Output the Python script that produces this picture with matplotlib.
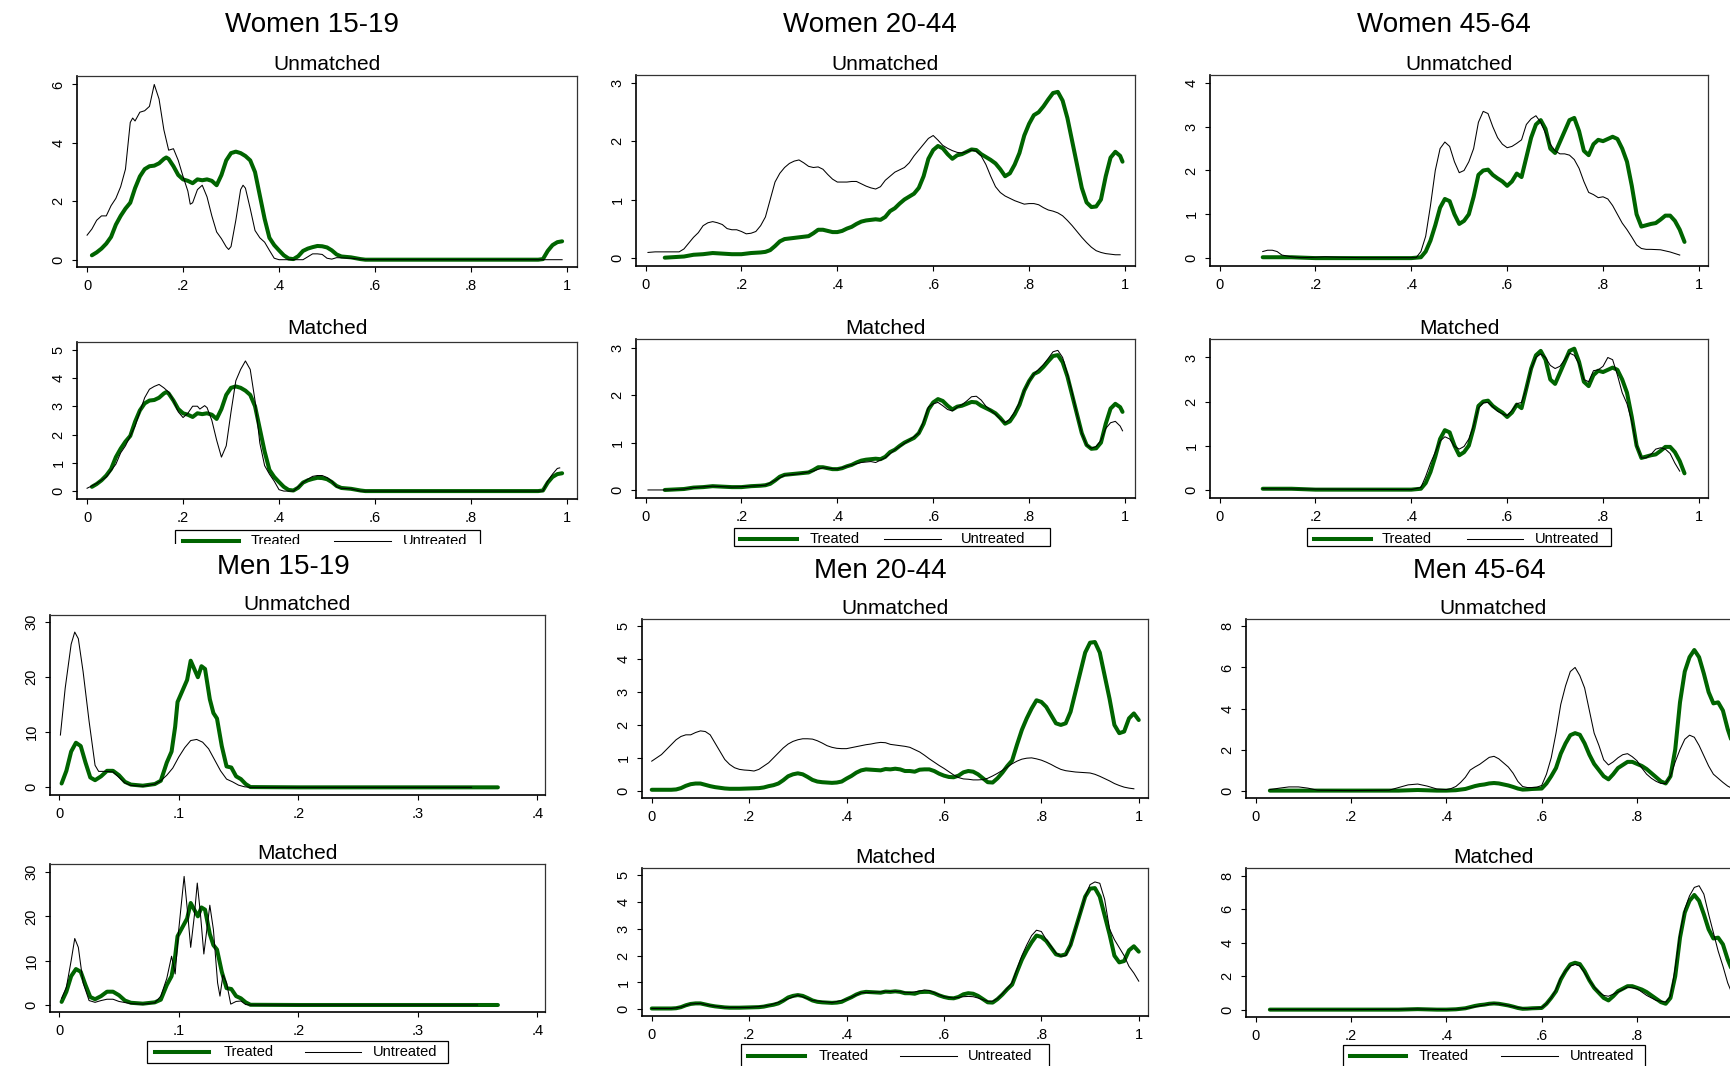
import numpy as np
import matplotlib
matplotlib.use("Agg")
import matplotlib.pyplot as plt
from matplotlib.patches import Rectangle

plt.rcParams["font.family"] = ["Liberation Sans", "DejaVu Sans"]

W, H = 1730, 1066
GREEN = "#006400"

# ---- data: (propensity score, density) ----
w1519_treated = [(0.01, 0.15), (0.02, 0.25), (0.03, 0.38), (0.04, 0.55), (0.05, 0.78), (0.06, 1.2), (0.07, 1.5),
                 (0.08, 1.75), (0.09, 1.95), (0.10, 2.45), (0.11, 2.85), (0.12, 3.1), (0.13, 3.2), (0.14, 3.22),
                 (0.15, 3.3), (0.16, 3.45), (0.165, 3.5), (0.17, 3.45), (0.18, 3.2), (0.19, 2.9), (0.20, 2.75),
                 (0.21, 2.7), (0.22, 2.62), (0.23, 2.75), (0.24, 2.72), (0.25, 2.75), (0.26, 2.7), (0.27, 2.55),
                 (0.28, 2.9), (0.29, 3.4), (0.30, 3.65), (0.31, 3.7), (0.32, 3.65), (0.33, 3.55), (0.34, 3.4),
                 (0.35, 3.0), (0.36, 2.2), (0.37, 1.4), (0.38, 0.75), (0.39, 0.5), (0.40, 0.32), (0.41, 0.15),
                 (0.42, 0.04), (0.43, 0.02), (0.44, 0.12), (0.45, 0.3), (0.46, 0.38), (0.47, 0.43), (0.48, 0.47),
                 (0.49, 0.46), (0.50, 0.42), (0.51, 0.32), (0.52, 0.18), (0.53, 0.11), (0.55, 0.08), (0.57, 0.02),
                 (0.58, 0.0), (0.70, 0.0), (0.94, 0.0), (0.95, 0.02), (0.96, 0.3), (0.97, 0.5), (0.98, 0.6),
                 (0.99, 0.63)]
w1519_untreated_unm = [(0.0, 0.84), (0.01, 1.05), (0.02, 1.35), (0.03, 1.5), (0.04, 1.5), (0.05, 1.85), (0.06, 2.1),
                       (0.07, 2.5), (0.08, 3.1), (0.09, 4.7), (0.095, 4.85), (0.10, 4.75), (0.11, 5.05), (0.12, 5.1),
                       (0.13, 5.25), (0.14, 6.0), (0.15, 5.5), (0.16, 4.45), (0.17, 3.75), (0.18, 3.8), (0.19, 3.4),
                       (0.20, 2.85), (0.21, 2.35), (0.215, 1.9), (0.22, 1.95), (0.23, 2.4), (0.24, 2.55), (0.25, 2.15),
                       (0.26, 1.5), (0.27, 0.95), (0.28, 0.72), (0.29, 0.44), (0.295, 0.35), (0.30, 0.45), (0.31, 1.35),
                       (0.32, 2.4), (0.325, 2.55), (0.33, 2.45), (0.34, 1.75), (0.35, 1.0), (0.36, 0.75), (0.37, 0.6),
                       (0.38, 0.32), (0.39, 0.05), (0.40, 0.0), (0.45, 0.0), (0.46, 0.1), (0.47, 0.2), (0.48, 0.2),
                       (0.49, 0.18), (0.50, 0.05), (0.51, 0.02), (0.52, 0.07), (0.55, 0.05), (0.58, 0.0), (0.99, 0.0)]
w1519_untreated_mat = [(0.0, 0.1), (0.02, 0.27), (0.04, 0.5), (0.06, 0.95), (0.07, 1.35), (0.08, 1.6), (0.09, 1.95),
                       (0.10, 2.3), (0.11, 2.8), (0.12, 3.3), (0.13, 3.6), (0.14, 3.7), (0.15, 3.77), (0.16, 3.65),
                       (0.17, 3.5), (0.18, 3.2), (0.19, 2.8), (0.20, 2.6), (0.21, 2.75), (0.22, 3.0), (0.23, 3.0),
                       (0.235, 2.9), (0.245, 3.02), (0.25, 2.95), (0.26, 2.5), (0.27, 1.8), (0.28, 1.2), (0.29, 1.6),
                       (0.30, 2.8), (0.31, 3.9), (0.32, 4.3), (0.33, 4.6), (0.34, 4.3), (0.35, 3.2), (0.36, 1.7),
                       (0.37, 0.9), (0.38, 0.6), (0.39, 0.35), (0.40, 0.05), (0.41, 0.0), (0.43, 0.0), (0.44, 0.15),
                       (0.45, 0.3), (0.46, 0.42), (0.47, 0.52), (0.48, 0.55), (0.49, 0.55), (0.50, 0.48), (0.51, 0.35),
                       (0.52, 0.15), (0.53, 0.1), (0.55, 0.08), (0.57, 0.0), (0.95, 0.0), (0.96, 0.35), (0.97, 0.6),
                       (0.98, 0.8), (0.985, 0.82)]

w2044_treated = [(0.04, 0.0), (0.06, 0.01), (0.08, 0.02), (0.10, 0.05), (0.12, 0.06), (0.14, 0.08), (0.16, 0.07),
                 (0.18, 0.06), (0.20, 0.06), (0.22, 0.08), (0.24, 0.09), (0.25, 0.1), (0.26, 0.13), (0.27, 0.2),
                 (0.28, 0.28), (0.29, 0.32), (0.30, 0.33), (0.32, 0.35), (0.34, 0.37), (0.35, 0.42), (0.36, 0.48),
                 (0.37, 0.48), (0.38, 0.46), (0.39, 0.44), (0.40, 0.44), (0.41, 0.46), (0.42, 0.5), (0.43, 0.53),
                 (0.44, 0.58), (0.45, 0.62), (0.46, 0.64), (0.47, 0.65), (0.48, 0.66), (0.49, 0.65), (0.50, 0.7),
                 (0.51, 0.8), (0.52, 0.85), (0.53, 0.93), (0.54, 1.0), (0.55, 1.05), (0.56, 1.1), (0.57, 1.2),
                 (0.58, 1.4), (0.59, 1.7), (0.60, 1.85), (0.61, 1.92), (0.62, 1.88), (0.63, 1.78), (0.64, 1.7),
                 (0.65, 1.76), (0.66, 1.78), (0.67, 1.82), (0.68, 1.86), (0.69, 1.85), (0.70, 1.78), (0.71, 1.73),
                 (0.72, 1.68), (0.73, 1.62), (0.74, 1.52), (0.75, 1.4), (0.76, 1.45), (0.77, 1.6), (0.78, 1.8),
                 (0.79, 2.1), (0.80, 2.3), (0.81, 2.45), (0.82, 2.5), (0.83, 2.6), (0.84, 2.72), (0.85, 2.83),
                 (0.86, 2.85), (0.87, 2.7), (0.88, 2.4), (0.89, 2.0), (0.90, 1.6), (0.91, 1.2), (0.92, 0.95),
                 (0.93, 0.87), (0.94, 0.88), (0.95, 1.0), (0.96, 1.4), (0.97, 1.72), (0.98, 1.82), (0.99, 1.75),
                 (0.995, 1.65)]
w2044_untreated_unm = [(0.005, 0.09), (0.02, 0.1), (0.05, 0.1), (0.07, 0.1), (0.08, 0.15), (0.09, 0.25), (0.10, 0.35),
                       (0.11, 0.43), (0.12, 0.55), (0.13, 0.6), (0.14, 0.62), (0.15, 0.6), (0.16, 0.57), (0.17, 0.5),
                       (0.18, 0.48), (0.19, 0.48), (0.20, 0.45), (0.21, 0.41), (0.22, 0.42), (0.23, 0.45), (0.24, 0.55),
                       (0.25, 0.7), (0.26, 1.0), (0.27, 1.3), (0.28, 1.45), (0.29, 1.55), (0.30, 1.62), (0.31, 1.66),
                       (0.32, 1.68), (0.33, 1.63), (0.34, 1.57), (0.35, 1.55), (0.36, 1.56), (0.37, 1.52), (0.38, 1.43),
                       (0.39, 1.35), (0.40, 1.3), (0.41, 1.3), (0.42, 1.3), (0.43, 1.31), (0.44, 1.31), (0.45, 1.27),
                       (0.46, 1.23), (0.47, 1.2), (0.48, 1.18), (0.49, 1.22), (0.50, 1.33), (0.51, 1.4), (0.52, 1.47),
                       (0.53, 1.51), (0.54, 1.55), (0.55, 1.63), (0.56, 1.75), (0.57, 1.85), (0.58, 1.95), (0.59, 2.05),
                       (0.60, 2.1), (0.61, 2.02), (0.62, 1.93), (0.63, 1.88), (0.64, 1.84), (0.65, 1.81), (0.66, 1.8),
                       (0.67, 1.82), (0.68, 1.85), (0.69, 1.83), (0.70, 1.75), (0.71, 1.6), (0.72, 1.4), (0.73, 1.22),
                       (0.74, 1.12), (0.75, 1.06), (0.76, 1.02), (0.77, 0.98), (0.78, 0.95), (0.79, 0.92), (0.80, 0.93),
                       (0.81, 0.93), (0.82, 0.91), (0.83, 0.86), (0.84, 0.82), (0.85, 0.8), (0.86, 0.77), (0.87, 0.72),
                       (0.88, 0.64), (0.89, 0.55), (0.90, 0.45), (0.91, 0.35), (0.92, 0.26), (0.93, 0.18), (0.94, 0.12),
                       (0.95, 0.09), (0.96, 0.07), (0.97, 0.06), (0.98, 0.05), (0.99, 0.05)]
w2044_untreated_mat = [(0.005, 0.0), (0.05, 0.0), (0.08, 0.02), (0.10, 0.05), (0.14, 0.08), (0.18, 0.06), (0.22, 0.08),
                       (0.25, 0.1), (0.27, 0.2), (0.29, 0.31), (0.32, 0.34), (0.35, 0.4), (0.37, 0.47), (0.40, 0.44),
                       (0.43, 0.53), (0.45, 0.58), (0.47, 0.6), (0.48, 0.58), (0.50, 0.68), (0.52, 0.85), (0.55, 1.05),
                       (0.57, 1.2), (0.58, 1.45), (0.59, 1.75), (0.60, 1.82), (0.61, 1.85), (0.62, 1.78), (0.63, 1.7),
                       (0.64, 1.67), (0.65, 1.75), (0.66, 1.8), (0.67, 1.88), (0.68, 1.97), (0.69, 1.98), (0.70, 1.9),
                       (0.71, 1.77), (0.72, 1.68), (0.73, 1.6), (0.74, 1.5), (0.75, 1.42), (0.76, 1.5), (0.77, 1.65),
                       (0.78, 1.85), (0.79, 2.1), (0.80, 2.3), (0.81, 2.45), (0.82, 2.55), (0.83, 2.65), (0.84, 2.78),
                       (0.85, 2.92), (0.86, 2.95), (0.87, 2.8), (0.88, 2.45), (0.89, 2.05), (0.90, 1.6), (0.91, 1.2),
                       (0.92, 0.95), (0.93, 0.88), (0.94, 0.92), (0.95, 1.05), (0.96, 1.3), (0.97, 1.42), (0.98, 1.45),
                       (0.99, 1.35), (0.995, 1.25)]

w4564_treated = [(0.09, 0.02), (0.15, 0.02), (0.20, 0.0), (0.30, 0.0), (0.40, 0.0), (0.42, 0.02), (0.43, 0.15),
                 (0.44, 0.4), (0.45, 0.75), (0.46, 1.15), (0.47, 1.35), (0.48, 1.3), (0.49, 1.0), (0.50, 0.78),
                 (0.51, 0.85), (0.52, 1.0), (0.53, 1.4), (0.54, 1.9), (0.55, 2.0), (0.56, 2.02), (0.57, 1.9),
                 (0.58, 1.82), (0.59, 1.75), (0.60, 1.65), (0.61, 1.75), (0.62, 1.93), (0.63, 1.85), (0.64, 2.3),
                 (0.65, 2.75), (0.66, 3.05), (0.67, 3.15), (0.68, 2.95), (0.69, 2.5), (0.70, 2.4), (0.71, 2.65),
                 (0.72, 2.9), (0.73, 3.15), (0.74, 3.2), (0.75, 2.9), (0.76, 2.45), (0.77, 2.35), (0.78, 2.6),
                 (0.79, 2.7), (0.80, 2.67), (0.81, 2.72), (0.82, 2.77), (0.83, 2.72), (0.84, 2.5), (0.85, 2.2),
                 (0.86, 1.65), (0.87, 1.0), (0.88, 0.72), (0.89, 0.75), (0.90, 0.78), (0.91, 0.8), (0.92, 0.88),
                 (0.93, 0.97), (0.94, 0.97), (0.95, 0.85), (0.96, 0.65), (0.97, 0.37)]
w4564_untreated_unm = [(0.09, 0.15), (0.10, 0.18), (0.11, 0.18), (0.12, 0.15), (0.13, 0.07), (0.15, 0.03), (0.17, 0.01),
                       (0.20, 0.02), (0.22, 0.03), (0.25, 0.02), (0.30, 0.01), (0.41, 0.01), (0.42, 0.15), (0.43, 0.5),
                       (0.44, 1.2), (0.45, 2.0), (0.46, 2.5), (0.47, 2.65), (0.48, 2.55), (0.49, 2.2), (0.50, 1.95),
                       (0.51, 2.0), (0.52, 2.2), (0.53, 2.5), (0.54, 3.1), (0.55, 3.35), (0.56, 3.3), (0.57, 3.0),
                       (0.58, 2.75), (0.59, 2.6), (0.60, 2.52), (0.61, 2.55), (0.62, 2.62), (0.63, 2.7), (0.64, 3.05),
                       (0.65, 3.18), (0.66, 3.25), (0.67, 3.1), (0.68, 2.85), (0.69, 2.6), (0.70, 2.45), (0.71, 2.38),
                       (0.72, 2.38), (0.73, 2.35), (0.74, 2.25), (0.75, 2.05), (0.76, 1.75), (0.77, 1.5), (0.78, 1.45),
                       (0.79, 1.38), (0.80, 1.4), (0.81, 1.35), (0.82, 1.2), (0.83, 1.0), (0.84, 0.8), (0.85, 0.65),
                       (0.86, 0.48), (0.87, 0.3), (0.88, 0.22), (0.89, 0.2), (0.90, 0.2), (0.92, 0.19), (0.94, 0.14),
                       (0.96, 0.07)]
w4564_untreated_mat = [(0.09, 0.02), (0.40, 0.0), (0.42, 0.05), (0.43, 0.3), (0.44, 0.6), (0.45, 0.85), (0.46, 1.1),
                       (0.47, 1.2), (0.48, 1.15), (0.49, 0.98), (0.50, 0.92), (0.51, 0.98), (0.52, 1.15), (0.53, 1.45),
                       (0.54, 1.85), (0.55, 1.97), (0.56, 1.98), (0.57, 1.88), (0.58, 1.78), (0.59, 1.72), (0.60, 1.68),
                       (0.61, 1.8), (0.62, 1.95), (0.63, 1.98), (0.64, 2.3), (0.65, 2.75), (0.66, 3.0), (0.67, 3.08),
                       (0.68, 3.0), (0.69, 2.82), (0.70, 2.75), (0.71, 2.8), (0.72, 2.95), (0.73, 3.1), (0.74, 3.05),
                       (0.75, 2.85), (0.76, 2.5), (0.77, 2.45), (0.78, 2.7), (0.79, 2.72), (0.80, 2.8), (0.81, 3.0),
                       (0.82, 2.95), (0.83, 2.6), (0.84, 2.2), (0.85, 1.95), (0.86, 1.55), (0.87, 1.0), (0.88, 0.72),
                       (0.89, 0.72), (0.90, 0.8), (0.91, 0.92), (0.92, 0.95), (0.93, 0.92), (0.94, 0.82), (0.95, 0.6),
                       (0.96, 0.42)]

m1519_treated = [(0.002, 0.7), (0.006, 3.0), (0.010, 6.5), (0.014, 8.1), (0.018, 7.5), (0.022, 4.5), (0.026, 1.8),
                 (0.030, 1.3), (0.035, 2.0), (0.040, 3.0), (0.045, 3.0), (0.050, 2.2), (0.055, 1.0), (0.060, 0.5),
                 (0.070, 0.3), (0.080, 0.6), (0.085, 1.2), (0.090, 4.5), (0.094, 6.5), (0.097, 11.0), (0.099, 15.5),
                 (0.103, 17.5), (0.107, 19.5), (0.110, 23.0), (0.113, 21.5), (0.116, 20.0), (0.119, 22.0),
                 (0.122, 21.5), (0.126, 16.0), (0.129, 13.5), (0.132, 12.5), (0.136, 7.5), (0.140, 3.8),
                 (0.144, 3.6), (0.148, 2.0), (0.152, 1.5), (0.156, 0.6), (0.160, 0.05), (0.200, 0.0), (0.300, 0.0),
                 (0.367, 0.0)]
m1519_untreated_unm = [(0.001, 9.5), (0.005, 18.0), (0.010, 26.0), (0.013, 28.2), (0.016, 27.0), (0.020, 21.0),
                       (0.025, 12.0), (0.030, 4.0), (0.033, 2.9), (0.040, 2.9), (0.045, 2.8), (0.050, 1.8),
                       (0.055, 0.8), (0.060, 0.35), (0.070, 0.2), (0.080, 0.6), (0.085, 1.2), (0.090, 2.2),
                       (0.095, 3.5), (0.100, 5.5), (0.105, 7.2), (0.110, 8.5), (0.115, 8.7), (0.120, 8.2),
                       (0.125, 7.0), (0.130, 5.0), (0.135, 3.0), (0.140, 1.5), (0.145, 1.0), (0.150, 0.4),
                       (0.155, 0.1), (0.160, 0.0), (0.200, 0.0), (0.300, 0.0), (0.345, 0.0)]
m1519_untreated_mat = [(0.002, 1.5), (0.006, 4.0), (0.010, 10.0), (0.013, 15.0), (0.016, 13.0), (0.020, 5.0),
                       (0.025, 1.0), (0.030, 0.6), (0.035, 1.0), (0.040, 1.3), (0.045, 1.3), (0.050, 0.8),
                       (0.060, 0.3), (0.070, 0.2), (0.080, 0.5), (0.085, 2.0), (0.090, 6.0), (0.094, 11.0),
                       (0.097, 7.0), (0.100, 17.0), (0.1045, 29.0), (0.107, 22.0), (0.110, 13.0), (0.113, 20.0),
                       (0.1155, 27.5), (0.118, 21.0), (0.121, 11.5), (0.1235, 17.0), (0.126, 22.5), (0.129, 17.0),
                       (0.1325, 5.0), (0.1345, 2.0), (0.137, 6.8), (0.140, 5.0), (0.1435, 0.2), (0.148, 0.8),
                       (0.152, 0.9), (0.156, 0.1), (0.160, 0.0), (0.200, 0.0), (0.300, 0.0), (0.350, 0.0)]

m2044_treated = [(0.0, 0.03), (0.02, 0.03), (0.04, 0.03), (0.05, 0.04), (0.06, 0.08), (0.07, 0.15), (0.08, 0.2),
                 (0.09, 0.22), (0.10, 0.22), (0.11, 0.18), (0.12, 0.14), (0.13, 0.11), (0.14, 0.09), (0.15, 0.07),
                 (0.16, 0.06), (0.18, 0.06), (0.20, 0.07), (0.22, 0.08), (0.23, 0.1), (0.24, 0.14), (0.25, 0.17),
                 (0.26, 0.22), (0.27, 0.32), (0.28, 0.44), (0.29, 0.5), (0.30, 0.53), (0.31, 0.5), (0.32, 0.42),
                 (0.33, 0.33), (0.34, 0.28), (0.35, 0.26), (0.36, 0.25), (0.37, 0.24), (0.38, 0.25), (0.39, 0.28),
                 (0.40, 0.37), (0.41, 0.45), (0.42, 0.55), (0.43, 0.62), (0.44, 0.65), (0.45, 0.64), (0.46, 0.63),
                 (0.47, 0.62), (0.48, 0.66), (0.49, 0.65), (0.50, 0.67), (0.51, 0.65), (0.52, 0.6), (0.53, 0.6),
                 (0.54, 0.58), (0.55, 0.64), (0.56, 0.65), (0.57, 0.65), (0.58, 0.6), (0.59, 0.52), (0.60, 0.46),
                 (0.61, 0.42), (0.62, 0.41), (0.63, 0.46), (0.64, 0.56), (0.65, 0.6), (0.66, 0.58), (0.67, 0.5),
                 (0.68, 0.38), (0.69, 0.26), (0.70, 0.25), (0.71, 0.38), (0.72, 0.55), (0.73, 0.75), (0.74, 0.92),
                 (0.75, 1.4), (0.76, 1.85), (0.77, 2.2), (0.78, 2.5), (0.79, 2.75), (0.80, 2.7), (0.81, 2.55),
                 (0.82, 2.3), (0.83, 2.05), (0.84, 2.0), (0.85, 2.05), (0.86, 2.4), (0.87, 3.0), (0.88, 3.6),
                 (0.89, 4.2), (0.90, 4.5), (0.91, 4.52), (0.92, 4.2), (0.93, 3.5), (0.94, 2.8), (0.95, 2.0),
                 (0.96, 1.75), (0.97, 1.8), (0.98, 2.2), (0.99, 2.35), (1.0, 2.15)]
m2044_untreated_unm = [(0.0, 0.9), (0.02, 1.1), (0.04, 1.4), (0.05, 1.55), (0.06, 1.65), (0.07, 1.7), (0.08, 1.7),
                       (0.09, 1.77), (0.10, 1.82), (0.11, 1.8), (0.12, 1.7), (0.13, 1.45), (0.14, 1.2), (0.15, 0.95),
                       (0.16, 0.8), (0.17, 0.7), (0.18, 0.65), (0.19, 0.63), (0.20, 0.62), (0.21, 0.6), (0.22, 0.65),
                       (0.23, 0.75), (0.24, 0.85), (0.25, 1.0), (0.26, 1.15), (0.27, 1.3), (0.28, 1.42), (0.29, 1.5),
                       (0.30, 1.55), (0.31, 1.58), (0.32, 1.58), (0.33, 1.57), (0.34, 1.52), (0.35, 1.45), (0.36, 1.37),
                       (0.37, 1.32), (0.38, 1.29), (0.39, 1.28), (0.40, 1.28), (0.41, 1.31), (0.42, 1.34), (0.43, 1.37),
                       (0.44, 1.4), (0.45, 1.42), (0.46, 1.45), (0.47, 1.47), (0.48, 1.46), (0.49, 1.41), (0.50, 1.39),
                       (0.51, 1.37), (0.52, 1.35), (0.53, 1.32), (0.54, 1.25), (0.55, 1.18), (0.56, 1.08), (0.57, 0.97),
                       (0.58, 0.87), (0.59, 0.77), (0.60, 0.68), (0.61, 0.58), (0.62, 0.48), (0.63, 0.4), (0.64, 0.36),
                       (0.65, 0.35), (0.66, 0.33), (0.67, 0.33), (0.68, 0.34), (0.69, 0.38), (0.70, 0.45), (0.71, 0.53),
                       (0.72, 0.62), (0.73, 0.72), (0.74, 0.82), (0.75, 0.9), (0.76, 0.96), (0.77, 0.99), (0.78, 1.0),
                       (0.79, 0.97), (0.80, 0.93), (0.81, 0.87), (0.82, 0.8), (0.83, 0.72), (0.84, 0.65), (0.85, 0.61),
                       (0.86, 0.59), (0.87, 0.57), (0.88, 0.56), (0.89, 0.55), (0.90, 0.54), (0.91, 0.5), (0.92, 0.44),
                       (0.93, 0.37), (0.94, 0.3), (0.95, 0.22), (0.96, 0.16), (0.97, 0.11), (0.98, 0.08), (0.99, 0.06)]
m2044_untreated_mat = [(0.0, 0.03), (0.04, 0.03), (0.06, 0.08), (0.08, 0.2), (0.10, 0.22), (0.12, 0.14), (0.15, 0.07),
                       (0.20, 0.07), (0.24, 0.14), (0.27, 0.32), (0.30, 0.53), (0.33, 0.33), (0.37, 0.25), (0.40, 0.37),
                       (0.43, 0.62), (0.46, 0.64), (0.50, 0.67), (0.53, 0.62), (0.55, 0.68), (0.56, 0.72), (0.57, 0.7),
                       (0.58, 0.62), (0.60, 0.47), (0.62, 0.42), (0.64, 0.47), (0.65, 0.48), (0.66, 0.47), (0.67, 0.42),
                       (0.68, 0.36), (0.69, 0.3), (0.70, 0.3), (0.71, 0.4), (0.72, 0.58), (0.73, 0.78), (0.74, 1.0),
                       (0.75, 1.5), (0.76, 2.0), (0.77, 2.4), (0.78, 2.75), (0.79, 2.95), (0.80, 2.9), (0.81, 2.6),
                       (0.82, 2.35), (0.83, 2.1), (0.84, 1.98), (0.85, 2.0), (0.86, 2.4), (0.87, 3.0), (0.88, 3.6),
                       (0.89, 4.2), (0.90, 4.65), (0.91, 4.75), (0.92, 4.7), (0.93, 4.1), (0.94, 3.0), (0.95, 2.6),
                       (0.96, 2.3), (0.97, 2.0), (0.98, 1.6), (0.99, 1.35), (1.0, 1.05)]

m4564_treated = [(0.03, 0.0), (0.10, 0.0), (0.20, 0.0), (0.30, 0.0), (0.34, 0.03), (0.38, 0.0), (0.40, 0.0),
                 (0.42, 0.02), (0.44, 0.08), (0.45, 0.15), (0.46, 0.22), (0.47, 0.27), (0.48, 0.3), (0.49, 0.35),
                 (0.50, 0.37), (0.51, 0.35), (0.52, 0.3), (0.53, 0.25), (0.54, 0.18), (0.55, 0.1), (0.56, 0.05),
                 (0.57, 0.06), (0.58, 0.08), (0.59, 0.09), (0.60, 0.1), (0.61, 0.35), (0.62, 0.7), (0.63, 1.1),
                 (0.64, 1.8), (0.65, 2.3), (0.66, 2.7), (0.67, 2.8), (0.68, 2.72), (0.69, 2.3), (0.70, 1.75),
                 (0.71, 1.3), (0.72, 1.0), (0.73, 0.7), (0.74, 0.55), (0.75, 0.8), (0.76, 1.1), (0.77, 1.25),
                 (0.78, 1.4), (0.79, 1.4), (0.80, 1.3), (0.81, 1.2), (0.82, 1.05), (0.83, 0.85), (0.84, 0.65),
                 (0.85, 0.45), (0.86, 0.35), (0.87, 0.7), (0.88, 2.0), (0.89, 4.3), (0.90, 5.8), (0.91, 6.5),
                 (0.92, 6.85), (0.93, 6.5), (0.94, 5.7), (0.95, 4.8), (0.96, 4.25), (0.97, 4.3), (0.98, 3.9),
                 (0.99, 3.0), (1.0, 2.3)]
m4564_untreated_unm = [(0.03, 0.05), (0.05, 0.12), (0.07, 0.18), (0.09, 0.18), (0.11, 0.12), (0.13, 0.02), (0.20, 0.0),
                       (0.28, 0.02), (0.30, 0.15), (0.32, 0.28), (0.34, 0.32), (0.36, 0.22), (0.38, 0.08), (0.40, 0.05),
                       (0.41, 0.1), (0.42, 0.2), (0.43, 0.4), (0.44, 0.65), (0.45, 1.0), (0.46, 1.15), (0.47, 1.28),
                       (0.48, 1.45), (0.49, 1.62), (0.50, 1.67), (0.51, 1.55), (0.52, 1.35), (0.53, 1.15), (0.54, 0.85),
                       (0.55, 0.45), (0.56, 0.2), (0.57, 0.15), (0.58, 0.15), (0.59, 0.17), (0.60, 0.25), (0.61, 0.8),
                       (0.62, 1.6), (0.63, 2.8), (0.64, 4.2), (0.65, 5.1), (0.66, 5.8), (0.67, 6.0), (0.68, 5.6),
                       (0.69, 5.0), (0.70, 3.9), (0.71, 2.8), (0.72, 2.2), (0.73, 1.5), (0.74, 1.25), (0.75, 1.4),
                       (0.76, 1.6), (0.77, 1.75), (0.78, 1.8), (0.79, 1.65), (0.80, 1.45), (0.81, 1.1), (0.82, 0.8),
                       (0.83, 0.6), (0.84, 0.45), (0.85, 0.35), (0.86, 0.35), (0.87, 0.7), (0.88, 1.4), (0.89, 2.0),
                       (0.90, 2.5), (0.91, 2.7), (0.92, 2.6), (0.93, 2.2), (0.94, 1.7), (0.95, 1.2), (0.96, 0.8),
                       (0.97, 0.6), (0.98, 0.4), (0.99, 0.22), (1.0, 0.1)]
m4564_untreated_mat = [(0.03, 0.0), (0.10, 0.0), (0.20, 0.0), (0.30, 0.02), (0.34, 0.04), (0.40, 0.0), (0.43, 0.04),
                       (0.45, 0.12), (0.48, 0.28), (0.50, 0.37), (0.52, 0.3), (0.55, 0.12), (0.57, 0.05), (0.60, 0.12),
                       (0.61, 0.35), (0.62, 0.7), (0.63, 1.2), (0.64, 1.9), (0.65, 2.3), (0.66, 2.6), (0.67, 2.7),
                       (0.68, 2.6), (0.69, 2.2), (0.70, 1.75), (0.71, 1.35), (0.72, 1.05), (0.73, 0.85), (0.74, 0.8),
                       (0.76, 1.05), (0.78, 1.35), (0.80, 1.25), (0.82, 0.85), (0.84, 0.55), (0.86, 0.45), (0.87, 0.8),
                       (0.88, 2.5), (0.89, 4.6), (0.90, 6.0), (0.91, 6.8), (0.92, 7.3), (0.93, 7.4), (0.94, 6.9),
                       (0.95, 5.7), (0.96, 4.6), (0.97, 3.5), (0.98, 2.6), (0.99, 1.6), (1.0, 0.9)]

x_ticks_01 = [0, 0.2, 0.4, 0.6, 0.8, 1]
x_labels_01 = ["0", ".2", ".4", ".6", ".8", "1"]
# the "1" tick of the last column falls just past the canvas edge
x_ticks_08 = [0, 0.2, 0.4, 0.6, 0.8]
x_labels_08 = ["0", ".2", ".4", ".6", ".8"]
x_ticks_04 = [0, 0.1, 0.2, 0.3, 0.4]
x_labels_04 = ["0", ".1", ".2", ".3", ".4"]

fig = plt.figure(figsize=(W / 100, H / 100), dpi=100)


def px_axes(left, top, right, bottom):
    return fig.add_axes([left / W, 1 - bottom / H, (right - left) / W, (bottom - top) / H])


def px_text(x, y, s, size):
    fig.text(x / W, 1 - y / H, s, ha="center", va="baseline", fontsize=size)


def density_panel(box, xlim, ylim, xticks, xlabels, yticks, treated, untreated):
    ax = px_axes(*box)
    tx, ty = np.array(treated).T
    ux, uy = np.array(untreated).T
    ax.plot(tx, ty, color=GREEN, lw=2.9, solid_joinstyle="round", solid_capstyle="round")
    ax.plot(ux, uy, color="black", lw=0.75)
    ax.set_xlim(*xlim)
    ax.set_ylim(*ylim)
    ax.set_xticks(xticks, xlabels)
    ax.set_yticks(yticks, [str(v) for v in yticks])
    ax.tick_params(direction="out", length=3.8, width=0.8, pad=4.5, labelsize=10.5, colors="black")
    ax.tick_params(axis="y", labelrotation=90)
    for lab in ax.get_yticklabels():
        lab.set_va("center")
    for side in ("left", "bottom"):
        ax.spines[side].set_linewidth(1.2)
    for side in ("top", "right"):
        ax.spines[side].set_linewidth(0.9)
        ax.spines[side].set_color("#333333")
    return ax


def legend_box(left, top, right, bottom, clip, green_span, treated_x, black_span, untreated_x, text_y):
    ax = px_axes(left - 2, top - 2, right + 2, clip)
    ax.set_xlim(left - 2, right + 2)
    ax.set_ylim(clip, top - 2)
    ax.axis("off")
    ax.add_patch(Rectangle((left, top), right - left, bottom - top, fill=False, lw=0.9, ec="black"))
    ax.plot(green_span, [text_y, text_y], color=GREEN, lw=2.9)
    ax.plot(black_span, [text_y, text_y], color="black", lw=0.75)
    ax.text(treated_x, text_y, "Treated", ha="left", va="center", fontsize=10.5, clip_on=True)
    ax.text(untreated_x, text_y, "Untreated", ha="left", va="center", fontsize=10.5, clip_on=True)


# Women 15-19
px_text(312, 32, "Women 15-19", 20)
px_text(327, 69.5, "Unmatched", 15)
px_text(327, 334.5, "Matched", 15)
density_panel((77, 76, 577, 267), (-0.021, 1.021), (-0.25, 6.29), x_ticks_01, x_labels_01, [0, 2, 4, 6],
              w1519_treated, w1519_untreated_unm)
density_panel((77, 342, 577, 499), (-0.021, 1.021), (-0.28, 5.27), x_ticks_01, x_labels_01, [0, 1, 2, 3, 4, 5],
              w1519_treated, w1519_untreated_mat)
legend_box(175, 530, 479.5, 552, 543.5, (182.5, 239), 251, (333.5, 391), 402.6, 541)

# Women 20-44
px_text(870, 32, "Women 20-44", 20)
px_text(885, 69.5, "Unmatched", 15)
px_text(885, 334.5, "Matched", 15)
density_panel((636, 75, 1135, 266), (-0.02, 1.021), (-0.143, 3.14), x_ticks_01, x_labels_01, [0, 1, 2, 3],
              w2044_treated, w2044_untreated_unm)
density_panel((636, 339, 1135, 498), (-0.02, 1.021), (-0.17, 3.19), x_ticks_01, x_labels_01, [0, 1, 2, 3],
              w2044_treated, w2044_untreated_mat)
legend_box(733.6, 528, 1050, 546, 547.5, (740, 797), 810, (883.6, 941), 961, 539)

# Women 45-64
px_text(1444, 32, "Women 45-64", 20)
px_text(1459, 69.5, "Unmatched", 15)
px_text(1459, 334.5, "Matched", 15)
density_panel((1210, 75, 1708, 266), (-0.02, 1.019), (-0.18, 4.18), x_ticks_01, x_labels_01, [0, 1, 2, 3, 4],
              w4564_treated, w4564_untreated_unm)
density_panel((1210, 339, 1708, 498), (-0.02, 1.019), (-0.19, 3.42), x_ticks_01, x_labels_01, [0, 1, 2, 3],
              w4564_treated, w4564_untreated_mat)
legend_box(1307, 528, 1610.6, 546, 547.5, (1314, 1370.6), 1382, (1467, 1522.6), 1535, 539)

# Men 15-19
px_text(283, 574, "Men 15-19", 20)
px_text(297, 609.5, "Unmatched", 15)
px_text(297, 859, "Matched", 15)
density_panel((50, 615, 545, 795), (-0.0077, 0.4064), (-1.39, 31.3), x_ticks_04, x_labels_04, [0, 10, 20, 30],
              m1519_treated, m1519_untreated_unm)
density_panel((50, 864, 545, 1012), (-0.0077, 0.4064), (-1.58, 31.8), x_ticks_04, x_labels_04, [0, 10, 20, 30],
              m1519_treated, m1519_untreated_mat)
legend_box(147, 1041, 448, 1063, 1066, (154.5, 209), 223.5, (304.6, 360.5), 372.7, 1052)

# Men 20-44
px_text(880, 578, "Men 20-44", 20)
px_text(895, 614, "Unmatched", 15)
px_text(895, 863, "Matched", 15)
density_panel((642, 619, 1148, 798), (-0.02, 1.019), (-0.22, 5.22), x_ticks_01, x_labels_01, [0, 1, 2, 3, 4, 5],
              m2044_treated, m2044_untreated_unm)
density_panel((642, 868, 1148, 1016), (-0.02, 1.019), (-0.25, 5.27), x_ticks_01, x_labels_01, [0, 1, 2, 3, 4, 5],
              m2044_treated, m2044_untreated_mat)
legend_box(740.8, 1044, 1049.2, 1070, 1066, (748, 805), 818.6, (900, 957), 968, 1056)

# Men 45-64 (right edge runs past the canvas, as in the source)
px_text(1479, 578, "Men 45-64", 20)
px_text(1493, 614, "Unmatched", 15)
px_text(1493, 863, "Matched", 15)
density_panel((1246, 619, 1742, 798), (-0.02, 1.02), (-0.36, 8.36), x_ticks_08, x_labels_08, [0, 2, 4, 6, 8],
              m4564_treated, m4564_untreated_unm)
density_panel((1246, 868, 1742, 1017), (-0.02, 1.02), (-0.44, 8.46), x_ticks_08, x_labels_08, [0, 2, 4, 6, 8],
              m4564_treated, m4564_untreated_mat)
legend_box(1343.3, 1045, 1645, 1070, 1066, (1350, 1406), 1418.7, (1500.7, 1557.5), 1569.6, 1056)

fig.savefig("out.png", dpi=100, facecolor="white")
